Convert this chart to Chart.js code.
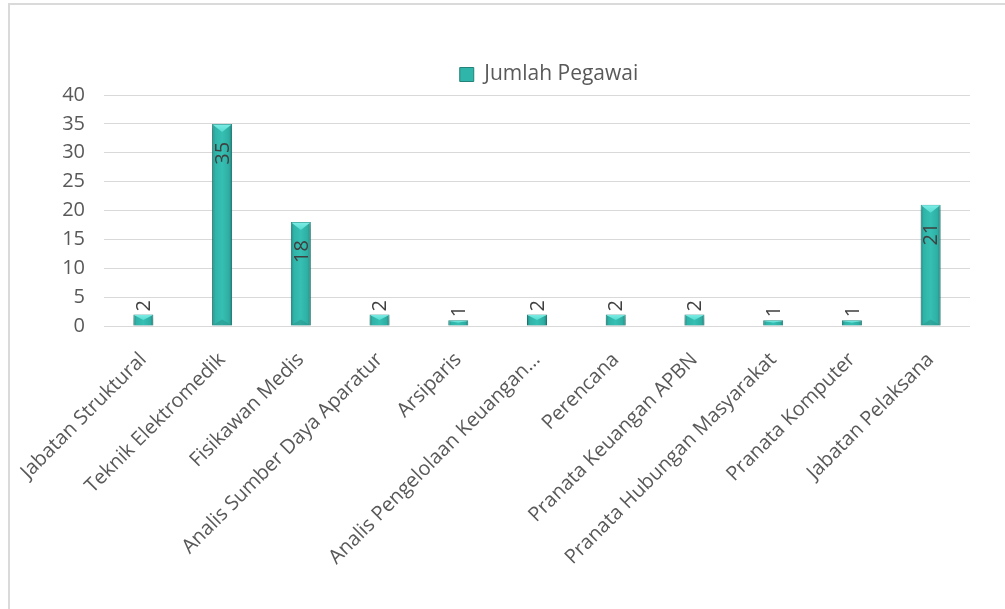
<!DOCTYPE html>
<html><head><meta charset="utf-8">
<script src="https://cdn.jsdelivr.net/npm/chart.js@4.4.1/dist/chart.umd.min.js"></script>
<style>
html,body{margin:0;padding:0;background:#fff;overflow:hidden;}
#wrap{position:relative;width:1005px;height:609px;}
#frame{position:absolute;left:8px;top:3px;width:1200px;height:800px;border-top:2px solid #dadada;border-left:2px solid #dadada;}
canvas{position:absolute;left:0;top:0;}
</style></head><body>
<div id="wrap"><div id="frame"></div><canvas id="c" width="1005" height="609"></canvas></div>
<script>
const categories = [
  'Jabatan Struktural',
  'Teknik Elektromedik',
  'Fisikawan Medis',
  'Analis Sumber Daya Aparatur',
  'Arsiparis',
  'Analis Pengelolaan Keuangan…',
  'Perencana',
  'Pranata Keuangan APBN',
  'Pranata Hubungan Masyarakat',
  'Pranata Komputer',
  'Jabatan Pelaksana'
];
const values = [2, 35, 18, 2, 1, 2, 2, 2, 1, 1, 21];
const seriesName = 'Jumlah Pegawai';
const yMin = 0, yMax = 40, yStep = 5;

const FONT = "'Open Sans', 'DejaVu Sans', sans-serif";
const BAR_PCT = 0.254;

function barFill(ctx) {
  const chart = ctx.chart;
  const xs = chart.scales && chart.scales.x;
  if (!xs || !chart.chartArea) return '#2fb5a9';
  const cx = xs.getPixelForValue(ctx.dataIndex);
  const w = xs.width / categories.length * BAR_PCT;
  const g = chart.ctx.createLinearGradient(cx - w / 2, 0, cx + w / 2, 0);
  g.addColorStop(0, '#1f8a83');
  g.addColorStop(0.15, '#30b3a8');
  g.addColorStop(0.5, '#36bfb3');
  g.addColorStop(0.85, '#2eaea3');
  g.addColorStop(1, '#1e8079');
  return g;
}

const shadowPlugin = {
  id: 'barShadow',
  beforeDatasetDraw(chart) {
    const c = chart.ctx;
    c.save();
    c.shadowColor = 'rgba(0,0,0,0.3)';
    c.shadowBlur = 5;
    c.shadowOffsetY = 3;
  },
  afterDatasetDraw(chart) {
    chart.ctx.restore();
  }
};

const legendShift = {
  id: 'legendShift',
  afterLayout(chart) {
    if (chart.legend) { chart.legend.left += 12; chart.legend.right += 12; }
  }
};

const decoPlugin = {
  id: 'deco',
  afterDatasetsDraw(chart) {
    const c = chart.ctx;
    const meta = chart.getDatasetMeta(0);
    meta.data.forEach((el, i) => {
      const w = el.width, x = el.x, top = el.y, base = el.base;
      const h = base - top;
      const th = Math.min(8, h * 0.5);
      c.save();
      c.beginPath();
      c.moveTo(x - w / 2 + 0.5, top + 0.5);
      c.lineTo(x + w / 2 - 0.5, top + 0.5);
      c.lineTo(x, top + th);
      c.closePath();
      const g = c.createLinearGradient(0, top, 0, top + th);
      g.addColorStop(0, '#7eeee6');
      g.addColorStop(1, '#55dad0');
      c.fillStyle = g;
      c.fill();
      if (h > 20) {
        c.beginPath();
        c.moveTo(x - w / 2 + 1, base - 0.5);
        c.lineTo(x + w / 2 - 1, base - 0.5);
        c.lineTo(x, base - 6);
        c.closePath();
        c.fillStyle = 'rgba(40,140,130,0.45)';
        c.fill();
      }
      c.restore();

      const txt = String(values[i]);
      c.save();
      c.font = "20px " + FONT;
      c.fillStyle = '#404040';
      const tw = c.measureText(txt).width;
      let startY;
      if (h > tw + 24) {
        startY = top + 18 + tw;
      } else {
        startY = top - 3;
      }
      c.translate(x, startY);
      c.rotate(-Math.PI / 2);
      c.textAlign = 'left';
      c.textBaseline = 'middle';
      c.fillText(txt, 0, 1);
      c.restore();
    });
  }
};

new Chart(document.getElementById('c'), {
  type: 'bar',
  data: {
    labels: categories,
    datasets: [{
      label: seriesName,
      data: values,
      backgroundColor: barFill,
      borderColor: '#238279',
      borderWidth: 1,
      barPercentage: BAR_PCT,
      categoryPercentage: 1,
      clip: false
    }]
  },
  options: {
    responsive: false,
    animation: false,
    events: [],
    layout: { padding: { top: 51, right: 35, left: 0, bottom: 0 } },
    plugins: {
      tooltip: { enabled: false },
      legend: {
        position: 'top',
        fullSize: false,
        labels: {
          font: { family: FONT, size: 21 },
          color: '#595959',
          boxWidth: 14,
          boxHeight: 14,
          padding: 13,
          generateLabels() {
            return [{
              text: seriesName,
              fillStyle: '#2fb5a9',
              strokeStyle: '#238279',
              fontColor: '#595959',
              lineWidth: 1,
              hidden: false,
              datasetIndex: 0
            }];
          }
        }
      }
    },
    scales: {
      x: {
        grid: { display: false },
        border: { display: false },
        ticks: {
          autoSkip: false,
          maxRotation: 45,
          minRotation: 45,
          padding: 14,
          color: '#595959',
          font: { family: FONT, size: 20 }
        },
        afterFit(s) { s.height = 283; }
      },
      y: {
        min: yMin,
        max: yMax,
        grid: { color: '#d9d9d9', lineWidth: 1, drawTicks: false },
        border: { display: false },
        ticks: {
          stepSize: yStep,
          padding: 19,
          color: '#595959',
          font: { family: FONT, size: 20 }
        },
        afterFit(s) { s.width = 104; }
      }
    }
  },
  plugins: [shadowPlugin, legendShift, decoPlugin]
});
</script>
</body></html>
